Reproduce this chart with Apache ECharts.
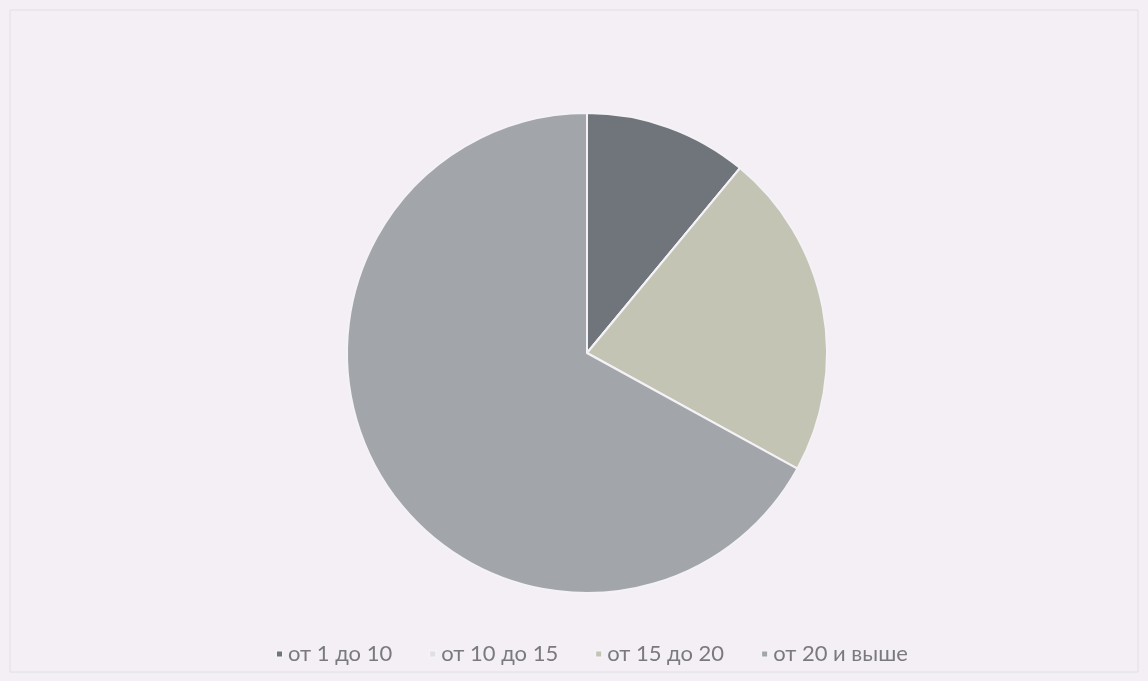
<!DOCTYPE html>
<html><head><meta charset="utf-8">
<script src="https://cdn.jsdelivr.net/npm/echarts@6/dist/echarts.min.js"></script>
<style>html,body{margin:0;padding:0;background:#f3eff5;}#c{width:1148px;height:681px;}</style>
</head><body><div id="c"></div>
<script>
const categories = ['от 1 до 10', 'от 10 до 15', 'от 15 до 20', 'от 20 и выше'];
const values = [11, 0, 22, 67];
const colors = ['#6f757b', '#e2dfe4', '#c4c4b4', '#a2a6ab'];

const chart = echarts.init(document.getElementById('c'));
chart.setOption({
  backgroundColor: '#f3eff5',
  animation: false,
  graphic: [{
    type: 'rect', shape: {x: 10, y: 10, width: 1128, height: 662},
    style: {fill: 'none', stroke: '#e2dfe4', lineWidth: 1}
  }],
  legend: {
    top: 638, left: 270,
    icon: 'rect', itemWidth: 7, itemHeight: 7, itemGap: 36,
    textStyle: {color: '#7a7a7c', fontSize: 22, fontFamily: 'Lato', padding: [0, 0, 0, 0]},
    data: categories
  },
  series: [{
    type: 'pie',
    center: [587, 353], radius: 240,
    startAngle: 90, clockwise: true,
    label: {show: false}, labelLine: {show: false},
    itemStyle: {borderColor: '#f4f2f6', borderWidth: 2},
    emphasis: {disabled: true},
    data: categories.map((n, i) => ({name: n, value: values[i], itemStyle: {color: colors[i]}}))
  }]
});
</script></body></html>
